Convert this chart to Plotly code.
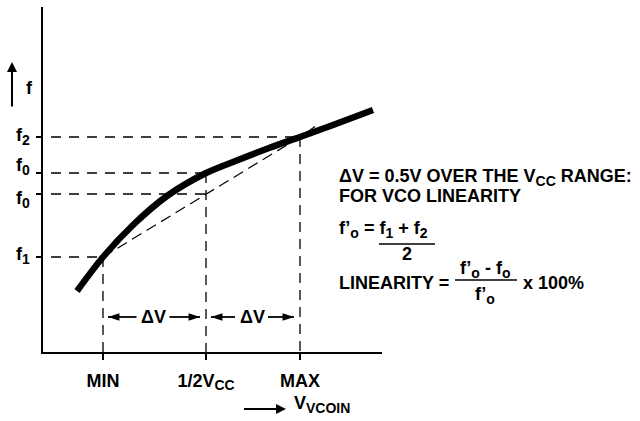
import plotly.graph_objects as go

# ---------------- data (arbitrary units) ----------------
SUB = '<sub><span style="font-size:14px">{}</span></sub>'

v_ticks = [60, 163, 257]                      # MIN, 1/2 VCC, MAX
v_tick_text = ["MIN", "1/2V" + SUB.format("CC"), "MAX"]
f_ticks = [95, 158, 179, 215]                 # f1, f0 (linear), f0 (actual), f2
f_tick_text = ["f" + SUB.format("1"), "f" + SUB.format("0"),
               "f" + SUB.format("0"), "f" + SUB.format("2")]
f_label_shift = [2, -5, 7, 1]                 # small vertical offsets of the labels
h_guide_to = [60, 163, 163, 257]              # where each horizontal guide ends (V)
v_guide_top = [95, 179, 215]                  # where each vertical guide starts (f)

curve_v = [34, 60, 90, 124, 163, 195, 226, 257, 290, 330]
curve_f = [61, 95, 127, 156, 179, 192, 204, 215, 227, 242]

secant_v = [60, 163, 257, 273]
secant_f = [95, 158, 215, 226]

v_range = [0, 339]
f_range = [0, 345]
delta_level = 35                              # height of the ΔV arrows

# ---------------- layout geometry ----------------
W, H = 640, 421
L, R, T, B = 43, 258, 7, 69
PW, PH = W - L - R, H - T - B


def px_x(px):
    return (px - L) / PW


def px_y(py):
    return (H - B - py) / PH


FONT = "Liberation Sans, Arial, Helvetica, sans-serif"
BLACK = "black"

fig = go.Figure()

# horizontal guides
for f, v in zip(f_ticks, h_guide_to):
    fig.add_trace(go.Scatter(x=[0, v], y=[f, f], mode="lines",
                             line=dict(color=BLACK, width=1.3, dash="0px,8px,10px,0px"),
                             hoverinfo="skip"))
# vertical guides
for v, f in zip(v_ticks, v_guide_top):
    fig.add_trace(go.Scatter(x=[v, v], y=[f, 0], mode="lines",
                             line=dict(color=BLACK, width=1.3, dash="10px,7px"),
                             hoverinfo="skip"))
# secant (ideal linear response)
fig.add_trace(go.Scatter(x=secant_v, y=secant_f, mode="lines",
                         line=dict(color=BLACK, width=1.2, dash="11px,6px"),
                         hoverinfo="skip"))
# VCO curve
fig.add_trace(go.Scatter(x=curve_v, y=curve_f, mode="lines",
                         line=dict(color=BLACK, width=6.5, shape="spline", smoothing=0.8),
                         hoverinfo="skip"))

# ΔV arrows
heads_x, heads_ang = [], []
for lo, hi in zip(v_ticks[:-1], v_ticks[1:]):
    mid = (lo + hi) / 2 - 1
    for tail, tip, ang in ((mid - 17, lo + 5, -90), (mid + 16, hi - 6, 90)):
        fig.add_trace(go.Scatter(x=[tail, tip], y=[delta_level, delta_level], mode="lines",
                                 line=dict(color=BLACK, width=1.8), hoverinfo="skip"))
        heads_x.append(tip)
        heads_ang.append(ang)
    fig.add_annotation(x=mid, y=delta_level, xref="x", yref="y", text="ΔV",
                       showarrow=False, xanchor="center", yanchor="middle")
fig.add_trace(go.Scatter(x=heads_x, y=[delta_level] * len(heads_x), mode="markers",
                         marker=dict(symbol="arrow", size=12, angle=heads_ang, color=BLACK,
                                     line=dict(width=0)),
                         hoverinfo="skip"))

# f tick labels
for f, txt, dy in zip(f_ticks, f_tick_text, f_label_shift):
    fig.add_annotation(x=0, y=f, xref="paper", yref="y", text=txt, showarrow=False,
                       xanchor="right", yanchor="middle", xshift=-11, yshift=dy)

# axis direction arrows and labels
fig.add_annotation(x=px_x(12), y=px_y(62), xref="paper", yref="paper", text=" ",
                   showarrow=True, ax=0, ay=56, arrowhead=2, arrowsize=1,
                   arrowwidth=2, arrowcolor=BLACK, standoff=0)
fig.add_annotation(x=px_x(29), y=px_y(88), xref="paper", yref="paper", text="f",
                   showarrow=False, xanchor="center", yanchor="middle")
fig.add_annotation(x=px_x(286), y=px_y(409), xref="paper", yref="paper", text=" ",
                   showarrow=True, ax=-46, ay=0, arrowhead=2, arrowsize=1,
                   arrowwidth=2, arrowcolor=BLACK, standoff=0)
fig.add_annotation(x=px_x(292), y=px_y(404), xref="paper", yref="paper",
                   text="V" + SUB.format("VCOIN"), showarrow=False,
                   xanchor="left", yanchor="middle")

# explanatory text block
notes = [
    ("ΔV = 0.5V OVER THE V" + SUB.format("CC") + " RANGE:", 337, 177, "left"),
    ("FOR VCO LINEARITY", 337, 196, "left"),
    ("f’" + SUB.format("o") + " = f" + SUB.format("1") + " + f" + SUB.format("2"),
     337, 229, "left"),
    ("2", 407, 254, "center"),
    ("LINEARITY =", 337, 283, "left"),
    ("f’" + SUB.format("o") + " - f" + SUB.format("o"), 485, 269, "center"),
    ("f’" + SUB.format("o"), 485, 295, "center"),
    ("x 100%", 521, 283, "left"),
]
for txt, x, y, anc in notes:
    fig.add_annotation(x=px_x(x), y=px_y(y), xref="paper", yref="paper", text=txt,
                       showarrow=False, xanchor=anc, yanchor="middle")
for x0, x1, y in ((379, 435, 244), (455, 517, 280)):
    fig.add_shape(type="line", xref="paper", yref="paper",
                  x0=px_x(x0), x1=px_x(x1), y0=px_y(y), y1=px_y(y),
                  line=dict(color=BLACK, width=1.5))

fig.update_xaxes(range=v_range, showline=True, linewidth=2, linecolor=BLACK,
                 ticks="outside", ticklen=6, tickwidth=1.5, tickcolor=BLACK,
                 tickvals=v_ticks, ticktext=v_tick_text, showgrid=False, zeroline=False,
                 automargin=False, fixedrange=True, ticklabelstandoff=5)
fig.update_yaxes(range=f_range, showline=True, linewidth=2, linecolor=BLACK,
                 ticks="outside", ticklen=5, tickwidth=1.5, tickcolor=BLACK,
                 tickvals=f_ticks, showticklabels=False, showgrid=False, zeroline=False,
                 automargin=False, fixedrange=True)

fig.update_layout(width=W, height=H, margin=dict(l=L, r=R, t=T, b=B, pad=0),
                  plot_bgcolor="white", paper_bgcolor="white", showlegend=False,
                  font=dict(family=FONT, size=18, color=BLACK, weight="bold"))

fig.write_html("out.html", config={"displayModeBar": False},
               post_script="document.body.style.margin='0';")
